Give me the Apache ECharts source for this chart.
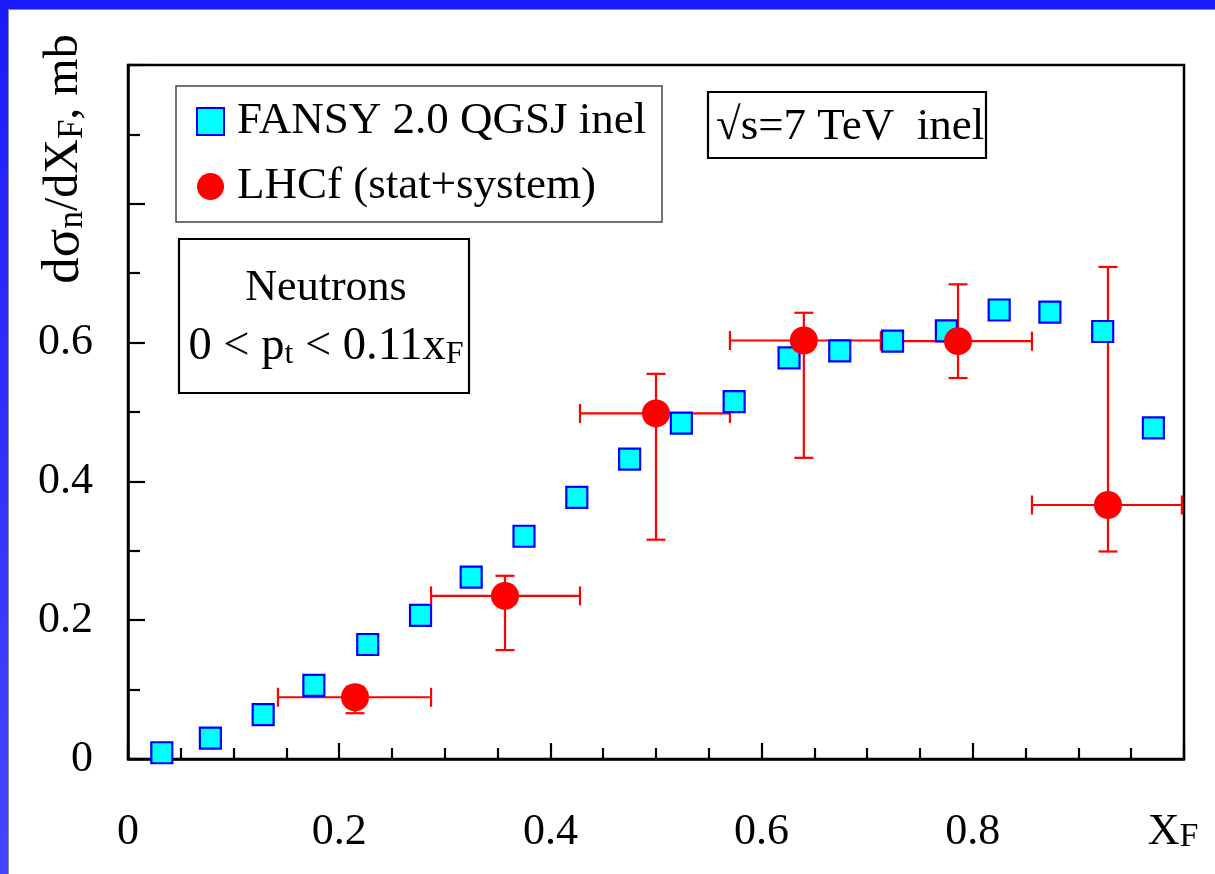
<!DOCTYPE html>
<html>
<head>
<meta charset="utf-8">
<script src="https://cdn.jsdelivr.net/npm/echarts@6/dist/echarts.min.js"></script>
<style>
  html, body { margin: 0; padding: 0; background: #fff; }
  #chart { width: 1215px; height: 874px; }
</style>
</head>
<body>
<div id="chart"></div>
<script>
const FONT = "'Liberation Serif', 'Times New Roman', 'DejaVu Serif', serif";

// FANSY 2.0 (QGSJ, inelastic) prediction: x_F and dσ/dx_F [mb]
const fansyX = [0.032, 0.078, 0.128, 0.176, 0.227, 0.277, 0.325, 0.375, 0.425, 0.475,
                0.524, 0.574, 0.626, 0.674, 0.724, 0.775, 0.825, 0.873, 0.923, 0.971];
const fansyY = [0.009, 0.030, 0.064, 0.106, 0.165, 0.207, 0.262, 0.321, 0.377, 0.432,
                0.484, 0.515, 0.578, 0.588, 0.602, 0.617, 0.647, 0.644, 0.616, 0.477];

// LHCf neutron measurement: bin centre, value, bin edges and stat+system band
const lhcfX     = [0.215, 0.357, 0.500, 0.640, 0.786, 0.928];
const lhcfY     = [0.089, 0.235, 0.498, 0.603, 0.602, 0.366];
const lhcfXLow  = [0.142, 0.287, 0.428, 0.570, 0.713, 0.856];
const lhcfXHigh = [0.287, 0.428, 0.570, 0.713, 0.856, 0.998];
const lhcfYLow  = [0.066, 0.157, 0.316, 0.434, 0.549, 0.299];
const lhcfYHigh = [0.104, 0.264, 0.555, 0.643, 0.684, 0.709];

// Axis ticks and their labels (upper y ticks are left unlabelled)
const xTicks = [0, 0.2, 0.4, 0.6, 0.8, 1.0];
const xTickLabels = ['0', '0.2', '0.4', '0.6', '0.8', '{x|X}{s|F}'];
const yTicks = [0, 0.2, 0.4, 0.6, 0.8, 1.0];
const yTickLabels = ['0', '0.2', '0.4', '0.6', '', ''];

function labelFor(ticks, labels) {
  return function (v) {
    for (let i = 0; i < ticks.length; i++) {
      if (Math.abs(v - ticks[i]) < 1e-9) return labels[i];
    }
    return '';
  };
}

const fansyData = fansyX.map((x, i) => [x, fansyY[i]]);
const lhcfData = lhcfX.map((x, i) => [x, lhcfY[i]]);
const errData = lhcfX.map((x, i) => [x, lhcfY[i], lhcfXLow[i], lhcfXHigh[i], lhcfYLow[i], lhcfYHigh[i]]);

function renderErrorBar(params, api) {
  const x = api.value(0), y = api.value(1);
  const pL = api.coord([api.value(2), y]);
  const pR = api.coord([api.value(3), y]);
  const pB = api.coord([x, api.value(4)]);
  const pT = api.coord([x, api.value(5)]);
  const cap = 9.5;
  const style = { stroke: '#ff0000', lineWidth: 2.2, fill: null };
  const seg = (x1, y1, x2, y2) => ({ type: 'line', shape: { x1, y1, x2, y2 }, style });
  return {
    type: 'group',
    children: [
      seg(pL[0], pL[1], pR[0], pR[1]),
      seg(pB[0], pB[1], pT[0], pT[1]),
      seg(pL[0], pL[1] - cap, pL[0], pL[1] + cap),
      seg(pR[0], pR[1] - cap, pR[0], pR[1] + cap),
      seg(pB[0] - cap, pB[1], pB[0] + cap, pB[1]),
      seg(pT[0] - cap, pT[1], pT[0] + cap, pT[1])
    ]
  };
}

const chart = echarts.init(document.getElementById('chart'), null, { renderer: 'canvas' });

const axisLineStyle = { color: '#000', width: 2.5 };

chart.setOption({
  animation: false,
  backgroundColor: '#fff',
  textStyle: { fontFamily: FONT, color: '#000' },
  grid: {
    left: 128, top: 65, right: 31, bottom: 115,
    containLabel: false,
    outerBoundsMode: 'none',
    show: true,
    borderColor: '#000',
    borderWidth: 2.5,
    backgroundColor: 'transparent'
  },
  legend: {
    orient: 'vertical',
    left: 196,
    top: 99,
    padding: 0,
    itemGap: 20,
    itemWidth: 27,
    itemHeight: 27,
    z: 10,
    data: ['FANSY 2.0 QGSJ inel', 'LHCf (stat+system)'],
    textStyle: {
      fontFamily: FONT, fontSize: 45, lineHeight: 45, color: '#000',
      padding: [0, 0, 0, 8]
    },
    selectedMode: false
  },
  xAxis: {
    type: 'value',
    min: 0, max: 1, interval: 0.2,
    axisLine: { show: true, onZero: false, lineStyle: axisLineStyle },
    axisTick: { show: true, inside: true, length: 16, lineStyle: { color: '#000', width: 2.2 } },
    minorTick: { show: true, splitNumber: 4, length: 11, lineStyle: { color: '#000', width: 2.2 } },
    splitLine: { show: false },
    minorSplitLine: { show: false },
    axisLabel: {
      show: true, margin: 51, fontSize: 44, fontFamily: FONT, color: '#000',
      showMinLabel: true, showMaxLabel: true, hideOverlap: false,
      formatter: labelFor(xTicks, xTickLabels),
      rich: {
        x: { fontSize: 44, fontFamily: FONT, color: '#000' },
        s: { fontSize: 34, fontFamily: FONT, color: '#000', lineHeight: 24,
             verticalAlign: 'bottom', padding: [0, 22, 0, 0] }
      }
    }
  },
  yAxis: {
    type: 'value',
    min: 0, max: 1, interval: 0.2,
    axisLine: { show: true, onZero: false, lineStyle: axisLineStyle },
    axisTick: { show: true, inside: true, length: 17, lineStyle: { color: '#000', width: 2.2 } },
    minorTick: { show: true, splitNumber: 2, length: 12, lineStyle: { color: '#000', width: 2.2 } },
    splitLine: { show: false },
    minorSplitLine: { show: false },
    axisLabel: {
      show: true, margin: 35, fontSize: 44, fontFamily: FONT, color: '#000',
      showMinLabel: true, showMaxLabel: true, hideOverlap: false,
      formatter: labelFor(yTicks, yTickLabels)
    }
  },
  series: [
    {
      name: 'LHCf errors',
      type: 'custom',
      renderItem: renderErrorBar,
      data: errData,
      encode: { x: 0, y: 1 },
      z: 1,
      silent: true
    },
    {
      name: 'FANSY 2.0 QGSJ inel',
      type: 'scatter',
      data: fansyData,
      symbol: 'rect',
      symbolSize: 21,
      itemStyle: { color: '#00ffff', borderColor: '#0000ff', borderWidth: 2.2, opacity: 1 },
      z: 2
    },
    {
      name: 'LHCf (stat+system)',
      type: 'scatter',
      data: lhcfData,
      symbol: 'circle',
      symbolSize: 28,
      itemStyle: { color: '#ff0000', opacity: 1 },
      z: 3
    }
  ],
  graphic: [
    // slide frame: blue bands on top and left with a thin grey edge
    {
      type: 'rect', z: 100, silent: true,
      shape: { x: 0, y: 0, width: 1215, height: 9 },
      style: { fill: '#1b1bfa' }
    },
    {
      type: 'rect', z: 100, silent: true,
      shape: { x: 0, y: 0, width: 8, height: 874 },
      style: {
        fill: new echarts.graphic.LinearGradient(0, 0, 0, 1, [
          { offset: 0, color: '#1b1bfa' },
          { offset: 1, color: '#4646ff' }
        ])
      }
    },
    {
      type: 'polyline', z: 100, silent: true,
      shape: { points: [[8.5, 874], [8.5, 9.5], [1215, 9.5]] },
      style: { stroke: '#8c8c8c', lineWidth: 1, fill: null }
    },
    // legend frame
    {
      type: 'rect', z: 0, silent: true,
      shape: { x: 176, y: 86, width: 486, height: 136 },
      style: { fill: '#fff', stroke: '#444', lineWidth: 1.5 }
    },
    // collision energy box
    {
      type: 'rect', z: 5, silent: true,
      shape: { x: 708, y: 92, width: 278, height: 66 },
      style: { fill: '#fff', stroke: '#000', lineWidth: 2.2 }
    },
    {
      type: 'text', z: 6, silent: true,
      style: {
        x: 716, y: 127, text: '\u221As=7 TeV  inel',
        fontSize: 45, fontFamily: FONT, fill: '#000',
        align: 'left', verticalAlign: 'middle'
      }
    },
    // particle selection box
    {
      type: 'rect', z: 5, silent: true,
      shape: { x: 179, y: 239, width: 290, height: 154 },
      style: { fill: '#fff', stroke: '#000', lineWidth: 2.2 }
    },
    {
      type: 'text', z: 6, silent: true,
      style: {
        x: 326, y: 288, text: 'Neutrons',
        fontSize: 44, fontFamily: FONT, fill: '#000',
        align: 'center', verticalAlign: 'middle'
      }
    },
    {
      type: 'text', z: 6, silent: true,
      style: {
        x: 326, y: 347, text: '0 < p{s|t} < 0.11x{s|F}',
        fontSize: 46.5, fontFamily: FONT, fill: '#000',
        align: 'center', verticalAlign: 'middle',
        rich: {
          s: { fontSize: 32, fontFamily: FONT, fill: '#000', lineHeight: 22, verticalAlign: 'bottom' }
        }
      }
    },
    // y-axis title
    {
      type: 'text', z: 6, silent: true,
      x: 64, y: 159, rotation: Math.PI / 2,
      style: {
        x: 0, y: 0, text: '{a|d\u03C3}{s|n}/dX{s|F}, mb',
        fontSize: 48, fontFamily: FONT, fill: '#000',
        align: 'center', verticalAlign: 'middle',
        rich: {
          a: { fontSize: 53, fontFamily: FONT, fill: '#000' },
          s: { fontSize: 35, fontFamily: FONT, fill: '#000', lineHeight: 26, verticalAlign: 'bottom' }
        }
      }
    }
  ]
});
</script>
</body>
</html>
